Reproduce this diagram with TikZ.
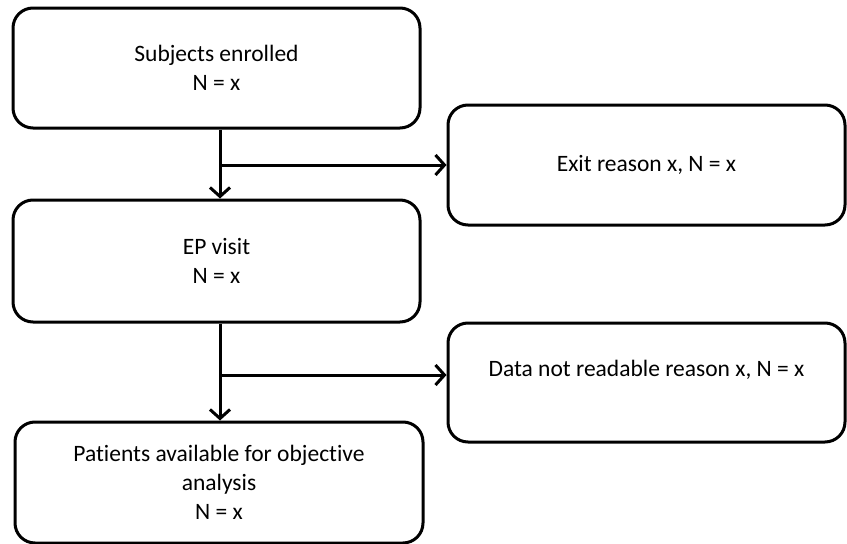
\documentclass[tikz,border=0pt]{standalone}
\usepackage{fontspec}
\setmainfont{Carlito}[Ligatures=NoCommon]
\usetikzlibrary{arrows.meta}
\begin{document}
\begin{tikzpicture}[x=1pt,y=-1pt,
  box/.style={draw=black, line width=3pt, rounded corners=20pt, align=center,
    font=\fontsize{23.5}{29}\selectfont, inner sep=0pt},
  conn/.style={line width=3pt, -{Straight Barb[length=9pt,width=20pt,line width=3pt]}}]
\useasboundingbox (0,0) rectangle (847,544);
\node[box, minimum width=407pt, minimum height=120pt] (enr) at (216.5,68) {Subjects enrolled\\N = x};
\node[box, minimum width=397pt, minimum height=120pt] (exit) at (646.5,165) {Exit reason x, N = x};
\node[box, minimum width=407pt, minimum height=122pt] (ep) at (216.5,261) {EP visit\\N = x};
\node[box, minimum width=397pt, minimum height=119pt] (dnr) at (646.5,382.5) {\raisebox{29pt}{Data not readable reason x, N = x}};
\node[box, minimum width=408pt, minimum height=121pt] (pat) at (219,482.5) {Patients available for objective\\analysis\\N = x};
\coordinate (j1) at (220,165);
\coordinate (j2) at (220,375);
\draw[conn] (enr.south -| j1) -- (ep.north -| j1);
\draw[conn] (j1) -- (exit.west |- j1);
\draw[conn] (ep.south -| j2) -- (pat.north -| j2);
\draw[conn] (j2) -- (dnr.west |- j2);
\end{tikzpicture}
\end{document}
